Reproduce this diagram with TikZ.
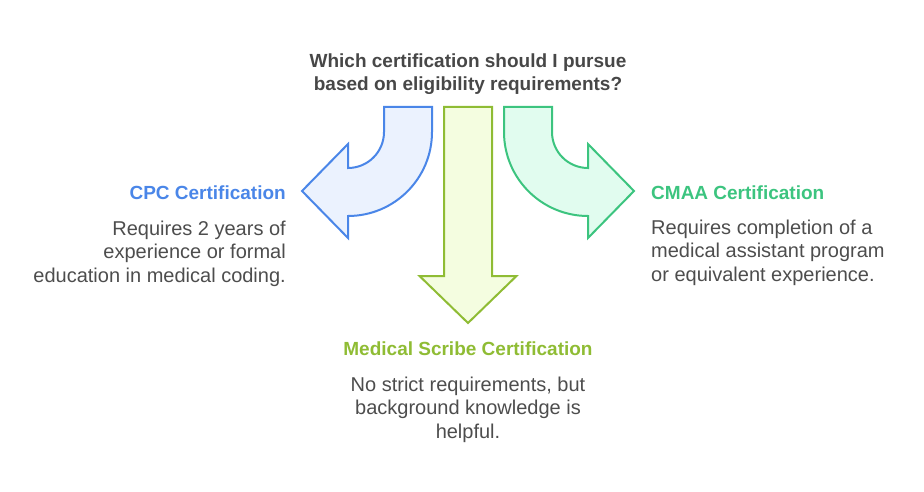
\documentclass[tikz,border=0pt]{standalone}
\usepackage{fontspec}
\setmainfont{Liberation Sans}
\usetikzlibrary{positioning}
\definecolor{cpcblue}{HTML}{4A86E8}
\definecolor{cpcfill}{HTML}{EBF2FE}
\definecolor{scribelime}{HTML}{8FBC34}
\definecolor{scribefill}{HTML}{F4FDE0}
\definecolor{cmaagreen}{HTML}{3CC47F}
\definecolor{cmaafill}{HTML}{E1FCEF}
\definecolor{asktext}{HTML}{474747}
\definecolor{bodytext}{HTML}{4D4D4D}
\tikzset{
  bendarrow/.style={line width=2pt, line join=miter},
  headtext/.style={font=\bfseries\fontsize{19}{23}\selectfont, inner sep=0pt},
  bodytext/.style={font=\fontsize{20}{23.5}\selectfont, text=bodytext, inner sep=0pt},
}

\begin{document}
\begin{tikzpicture}[x=1pt,y=1pt]
\useasboundingbox (0,0) rectangle (924,-492);
% question on top
\node[headtext, text=asktext, align=center, anchor=base] (ask) at (468,-91)
  {Which certification should I pursue\\based on eligibility requirements?};
% left arrow
\draw[cpcblue, fill=cpcfill, bendarrow] (384,-107) -- (432,-107) -- (432,-132)
  arc[start angle=0, end angle=-90, radius=84] -- (348,-238) -- (302,-191)
  -- (348,-144) -- (348,-168) arc[start angle=-90, end angle=0, radius=36] -- cycle;
% middle arrow
\draw[scribelime, fill=scribefill, bendarrow] (444,-107) -- (492,-107) -- (492,-276)
  -- (516.5,-276) -- (468,-323) -- (419.5,-276) -- (444,-276) -- cycle;
% right arrow
\draw[cmaagreen, fill=cmaafill, bendarrow] (552,-107) -- (504,-107) -- (504,-132)
  arc[start angle=180, end angle=270, radius=84] -- (588,-238) -- (634,-191)
  -- (588,-144) -- (588,-168) arc[start angle=270, end angle=180, radius=36] -- cycle;
% CPC
\node[headtext, text=cpcblue, anchor=base east] (cpc) at (286,-199) {CPC Certification};
\node[bodytext, align=right, anchor=base east] (cpcnote) at (286,-282)
  {Requires 2 years of\\experience or formal\\education in medical coding.};
% CMAA
\node[headtext, text=cmaagreen, anchor=base west] (cmaa) at (651,-199) {CMAA Certification};
\node[bodytext, align=left, anchor=base west] (cmaanote) at (651,-281)
  {Requires completion of a\\medical assistant program\\or equivalent experience.};
% Medical Scribe
\node[headtext, text=scribelime, anchor=base] (scribe) at (468,-355) {Medical Scribe Certification};
\node[bodytext, align=center, anchor=base] (scribenote) at (468,-438)
  {No strict requirements, but\\background knowledge is\\helpful.};
\end{tikzpicture}
\end{document}
